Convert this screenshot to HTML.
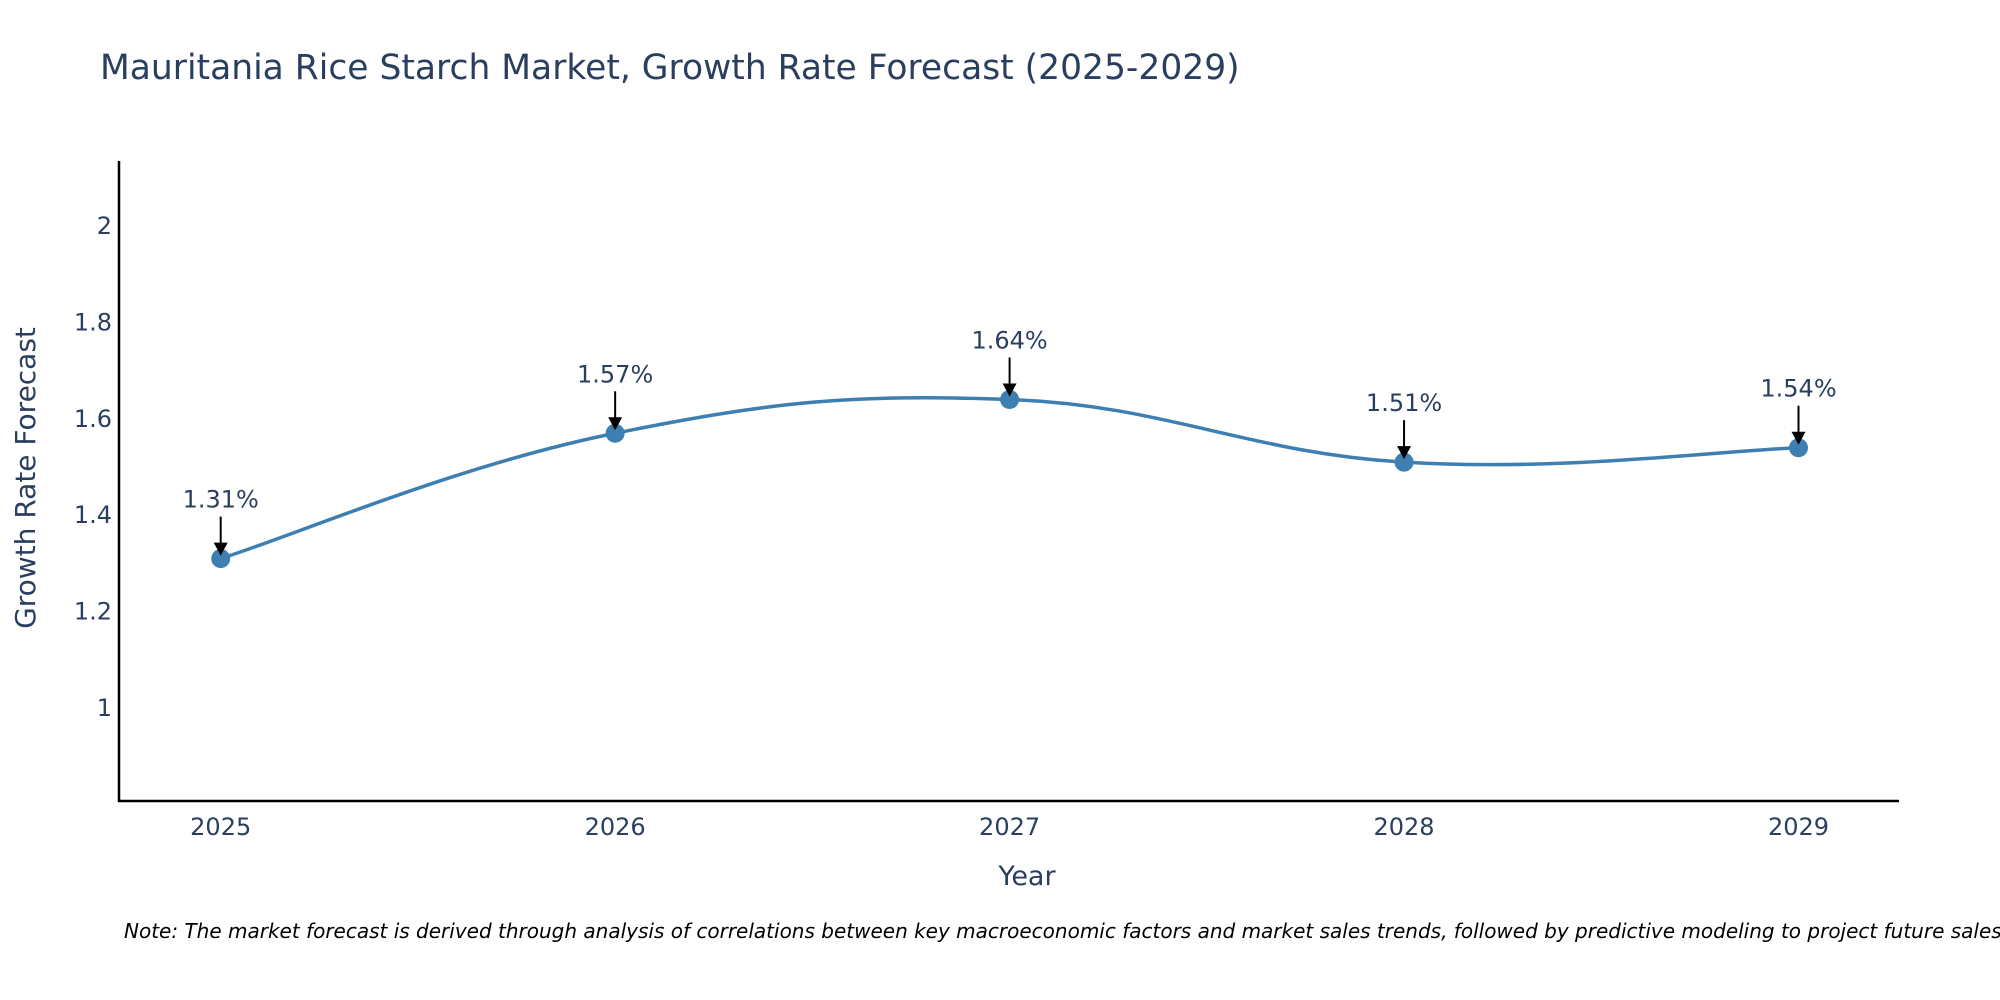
<!DOCTYPE html>
<html><head><meta charset="utf-8"><style>
html,body{margin:0;padding:0;background:#fff;}
svg{display:block;font-family:"DejaVu Sans","Liberation Sans",sans-serif;}
</style></head><body>
<svg id="chart" width="2000" height="1000" viewBox="0 0 2000 1000">
<text x="100" y="79" font-size="34.5" fill="#2a3f5f">Mauritania Rice Starch Market, Growth Rate Forecast (2025-2029)</text>
<g id="yticks"></g>
<g id="xticks"></g>
<line x1="119" y1="161" x2="119" y2="802" stroke="#000" stroke-width="2.5"/>
<line x1="118" y1="801" x2="1899" y2="801" stroke="#000" stroke-width="2.5"/>
<path id="line" fill="none" stroke="#3d7fb0" stroke-width="3.5"/>
<g id="points"></g>
<g id="annots"></g>
<text x="1027" y="885" font-size="27" fill="#2a3f5f" text-anchor="middle">Year</text>
<text transform="translate(35,478) rotate(-90)" font-size="28" fill="#2a3f5f" text-anchor="middle">Growth Rate Forecast</text>
<text x="124" y="938" font-size="20" font-style="italic" fill="#000">Note: The market forecast is derived through analysis of correlations between key macroeconomic factors and market sales trends, followed by predictive modeling to project future sales.</text>
</svg>
<script>
const years = [2025, 2026, 2027, 2028, 2029];
const values = [1.31, 1.57, 1.64, 1.51, 1.54];
const labels = ["1.31%", "1.57%", "1.64%", "1.51%", "1.54%"];
const yTicks = [1, 1.2, 1.4, 1.6, 1.8, 2];
const NS = "http://www.w3.org/2000/svg";
function xs(v){ return 220.7 + (v - 2025) * 394.45; }
function ys(v){ return 708 - (v - 1) * 482; }
function mk(tag, attrs, parent){ const e = document.createElementNS(NS, tag); for (const k in attrs) e.setAttribute(k, attrs[k]); parent.appendChild(e); return e; }
const yt = document.getElementById('yticks');
yTicks.forEach(t => {
  const e = mk('text', {x: 112, y: ys(t) + 8, 'font-size': 24, fill: '#2a3f5f', 'text-anchor': 'end'}, yt);
  
  
  e.textContent = String(t);
});
const xt = document.getElementById('xticks');
years.forEach(y => {
  const e = mk('text', {x: xs(y), y: 835, 'font-size': 24, fill: '#2a3f5f', 'text-anchor': 'middle'}, xt);
  
  
  e.textContent = String(y);
});
const P = years.map((y, i) => [xs(y), ys(values[i])]);
let d = "M" + P[0][0] + "," + P[0][1];
for (let i = 0; i < P.length - 1; i++) {
  const p0 = P[Math.max(i - 1, 0)], p1 = P[i], p2 = P[i + 1], p3 = P[Math.min(i + 2, P.length - 1)];
  const k = 1 / 5;
  const c1 = [p1[0] + (p2[0] - p0[0]) * k, p1[1] + (p2[1] - p0[1]) * k];
  const c2 = [p2[0] - (p3[0] - p1[0]) * k, p2[1] - (p3[1] - p1[1]) * k];
  d += " C" + c1 + " " + c2 + " " + p2;
}
document.getElementById('line').setAttribute('d', d);
const pts = document.getElementById('points');
const an = document.getElementById('annots');
P.forEach((p, i) => {
  const c = mk('circle', {cx: p[0], cy: p[1], r: 9.5, fill: '#3d7fb0'}, pts);
  
  
  const l = mk('line', {x1: p[0], y1: p[1] - 42, x2: p[0], y2: p[1] - 14, stroke: '#000', 'stroke-width': 2}, an);
  
  
  const h = mk('polygon', {points: (p[0]-7)+","+(p[1]-16)+" "+(p[0]+7)+","+(p[1]-16)+" "+p[0]+","+(p[1]-3), fill: '#000'}, an);
  
  
  const t = mk('text', {x: p[0], y: p[1] - 51, 'font-size': 24, fill: '#2a3f5f', 'text-anchor': 'middle'}, an);
  
  
  t.textContent = labels[i];
});
</script>
</body></html>
